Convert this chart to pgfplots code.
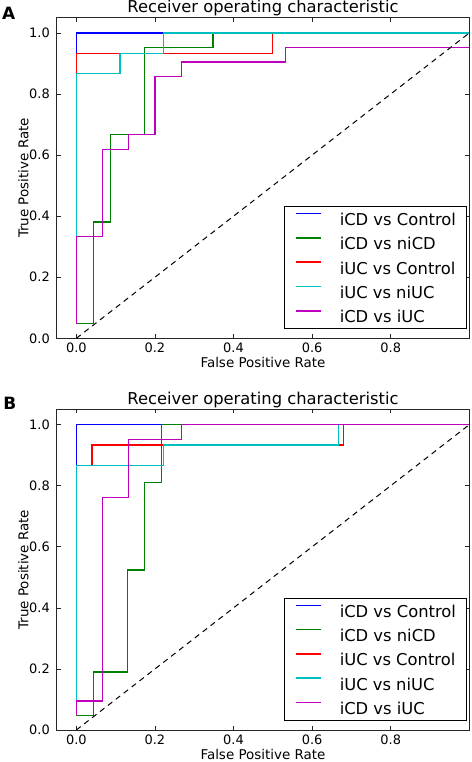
\documentclass[border=0pt]{standalone}
\usepackage{fontspec}
\setmainfont{DejaVu Sans}
\usepackage{pgfplots}
\pgfplotsset{compat=1.18}

\definecolor{mplblue}{rgb}{0,0,1}
\definecolor{mplgreen}{rgb}{0,0.5,0}
\definecolor{mplred}{rgb}{1,0,0}
\definecolor{mplcyan}{rgb}{0,0.75,0.75}
\definecolor{mplmag}{rgb}{0.75,0,0.75}

\pgfplotsset{
  every axis title shift=0pt,
  rocaxis/.style={
    scale only axis, width=412.6bp, height=320.6bp,
    anchor=south west,
    xmin=-0.05, xmax=1.0, ymin=0, ymax=1.05,
    xtick={0,0.2,0.4,0.6,0.8}, ytick={0,0.2,0.4,0.6,0.8,1.0},
    major tick length=4bp,
    tick style={black!85, line width=0.6bp},
    axis line style={black!85, line width=0.9bp},
    /pgf/number format/.cd, fixed, fixed zerofill, precision=1, assume math mode=true,
    /pgfplots/.cd,
    xticklabel style={font=\fontsize{13}{15}\selectfont, inner sep=0pt, anchor=north, yshift=-4.8bp},
    yticklabel style={font=\fontsize{13}{15}\selectfont, inner sep=0pt, anchor=east, xshift=-6.7bp},
    title={Receiver operating characteristic},
    title style={at={(axis description cs:0.5,1)}, anchor=base, yshift=5.2bp, inner sep=0pt, font=\fontsize{16.4}{19}\selectfont},
    xlabel={False Positive Rate},
    ylabel={True Positive Rate},
    xlabel style={at={(axis description cs:0.5,0)}, anchor=base, yshift=-29.5bp, inner sep=0pt, font=\fontsize{13.5}{15}\selectfont},
    ylabel style={at={(axis description cs:-0.0688,0.5)}, anchor=base, inner sep=0pt, font=\fontsize{13.5}{15}\selectfont},
    legend image code/.code={\draw[#1, line width=1.6bp] (0bp,5.3bp) -- (24.4bp,5.3bp);},
    legend cell align=left,
    legend style={at={(rel axis cs:0.9944,0.028)}, anchor=south east,
      draw=black, line width=0.9bp, fill=white,
      font=\fontsize{16.4}{19}\selectfont,
      inner xsep=10.6bp, inner ysep=4.9bp, row sep=8.7bp,
      nodes={inner sep=0pt, text height=14.4bp, text depth=1.2bp},
      /tikz/every odd column/.append style={column sep=18.3bp}},
    every axis plot/.append style={line width=1.3bp},
  }
}

\begin{document}
\begin{tikzpicture}
\useasboundingbox (0,0) rectangle (472bp,762bp);

% Panel A
\begin{axis}[rocaxis, at={(56.7bp,423.7bp)}]
\addplot[mplblue] coordinates {(0,0.048) (0,1) (1,1)};
\addlegendentry{iCD vs Control}
\addplot[mplgreen] coordinates {(0,0.048) (0.043,0.048) (0.043,0.381) (0.087,0.381) (0.087,0.667) (0.174,0.667) (0.174,0.952) (0.348,0.952) (0.348,1) (1,1)};
\addlegendentry{iCD vs niCD}
\addplot[mplred] coordinates {(0,0.067) (0,0.933) (0.5,0.933) (0.5,1) (1,1)};
\addlegendentry{iUC vs Control}
\addplot[mplcyan] coordinates {(0,0.067) (0,0.867) (0.111,0.867) (0.111,0.933) (0.222,0.933) (0.222,1) (1,1)};
\addlegendentry{iUC vs niUC}
\addplot[mplmag] coordinates {(0,0.048) (0,0.333) (0.067,0.333) (0.067,0.619) (0.133,0.619) (0.133,0.667) (0.2,0.667) (0.2,0.857) (0.267,0.857) (0.267,0.905) (0.533,0.905) (0.533,0.952) (1,0.952)};
\addlegendentry{iCD vs iUC}
\addplot[black, line width=1bp, dash pattern=on 5.5bp off 4.5bp, forget plot] coordinates {(0,0) (1,1)};
\end{axis}
\node[anchor=base west, inner sep=0pt, font=\fontsize{17}{20}\selectfont\bfseries] at (2bp,742bp) {A};

% Panel B
\begin{axis}[rocaxis, at={(56.7bp,32bp)}]
\addplot[mplblue] coordinates {(0,0.048) (0,1) (1,1)};
\addlegendentry{iCD vs Control}
\addplot[mplgreen] coordinates {(0,0.048) (0.043,0.048) (0.043,0.190) (0.130,0.190) (0.130,0.524) (0.174,0.524) (0.174,0.810) (0.217,0.810) (0.217,1) (1,1)};
\addlegendentry{iCD vs niCD}
\addplot[mplred] coordinates {(0,0.067) (0,0.867) (0.04,0.867) (0.04,0.933) (0.68,0.933) (0.68,1) (1,1)};
\addlegendentry{iUC vs Control}
\addplot[mplcyan] coordinates {(0,0.067) (0,0.867) (0.222,0.867) (0.222,0.933) (0.667,0.933) (0.667,1) (1,1)};
\addlegendentry{iUC vs niUC}
\addplot[mplmag] coordinates {(0,0.048) (0,0.095) (0.067,0.095) (0.067,0.762) (0.133,0.762) (0.133,0.952) (0.267,0.952) (0.267,1) (1,1)};
\addlegendentry{iCD vs iUC}
\addplot[black, line width=1bp, dash pattern=on 5.5bp off 4.5bp, forget plot] coordinates {(0,0) (1,1)};
\end{axis}
\node[anchor=base west, inner sep=0pt, font=\fontsize{17}{20}\selectfont\bfseries] at (3.3bp,352bp) {B};
\end{tikzpicture}
\end{document}
